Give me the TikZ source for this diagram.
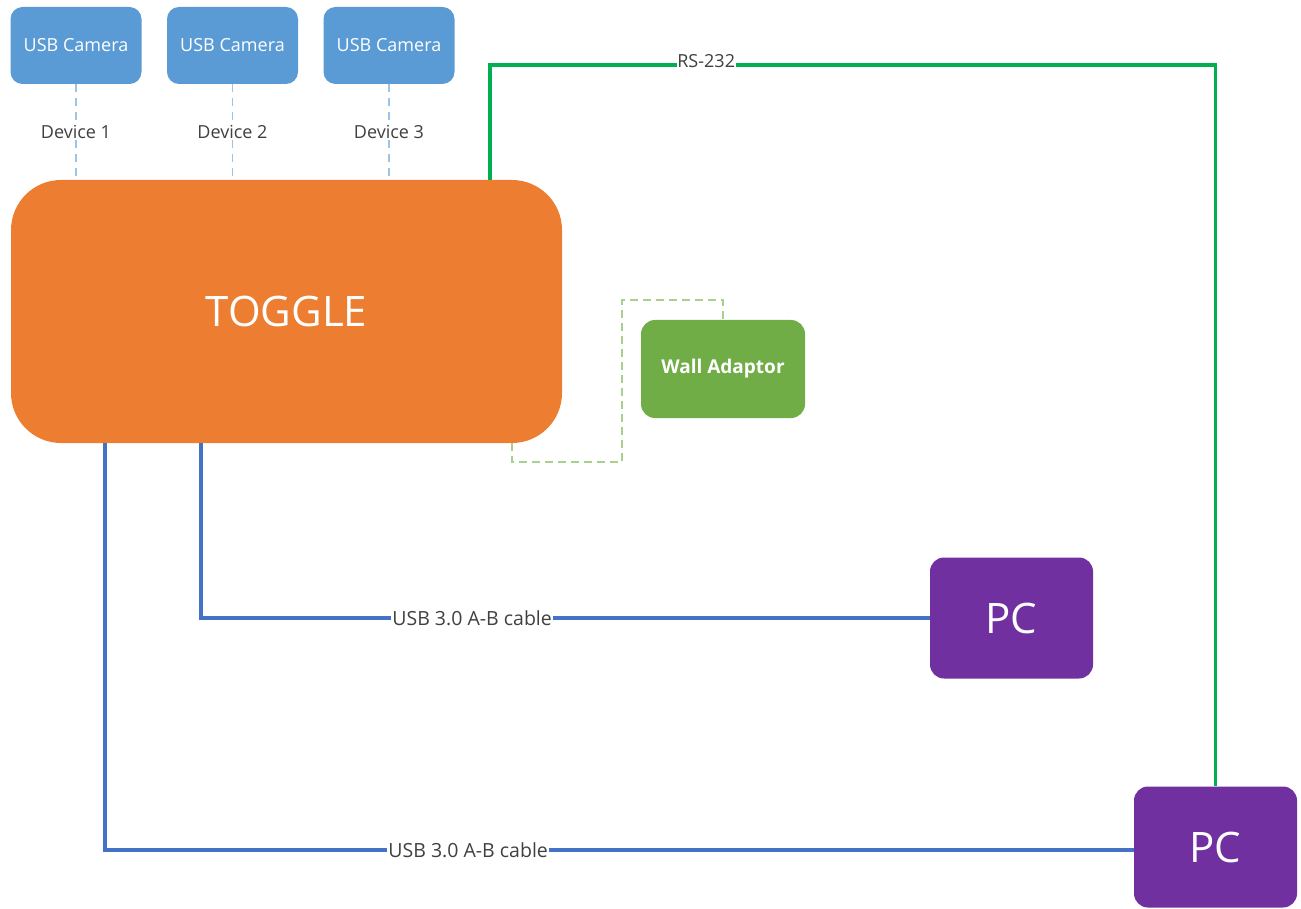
\documentclass[tikz,border=0pt]{standalone}
\usepackage{fontspec}
\setmainfont{Open Sans}
\usetikzlibrary{calc}
\definecolor{camblue}{HTML}{5B9BD5}
\definecolor{togorange}{HTML}{ED7D31}
\definecolor{wallgreen}{HTML}{70AD47}
\definecolor{pcpurple}{HTML}{7030A0}
\definecolor{usbblue}{HTML}{4472C4}
\definecolor{rsgreen}{HTML}{00B050}
\definecolor{dashblue}{HTML}{9DC3E6}
\definecolor{dashgreen}{HTML}{A9D18E}
\definecolor{labelgray}{HTML}{404040}
\tikzset{
  box/.style={rounded corners=12pt, text=white, inner sep=0pt, align=center},
  cam/.style={box, fill=camblue, minimum width=131pt, minimum height=77pt,
    font=\fontsize{18}{20}\selectfont},
  pcbox/.style={box, fill=pcpurple, minimum width=163pt, minimum height=121pt,
    rounded corners=14pt, font=\fontsize{42}{46}\selectfont},
  camlink/.style={draw=dashblue, line width=1.6pt, dash pattern=on 8pt off 6pt},
  walllink/.style={draw=dashgreen, line width=1.6pt, dash pattern=on 8pt off 5pt},
  usb/.style={draw=usbblue, line width=3.5pt},
  rs/.style={draw=rsgreen, line width=3.5pt},
  lbl/.style={fill=white, text=labelgray, inner sep=1pt, font=\fontsize{18}{20}\selectfont},
  cablelbl/.style={lbl, font=\fontsize{19.5}{21}\selectfont},
}
\begin{document}
\begin{tikzpicture}[x=1pt, y=-1pt]
\useasboundingbox (0,0) rectangle (1301,909);
% nodes
\node[cam] (cam1) at (76,45.5) {USB Camera};
\node[cam] (cam2) at (232.5,45.5) {USB Camera};
\node[cam] (cam3) at (389,45.5) {USB Camera};
\node[box, fill=togorange, minimum width=551pt, minimum height=263pt,
  rounded corners=50pt, font=\fontsize{42}{46}\selectfont] (toggle) at (286.5,311.5) {TOGGLE};
\node[box, fill=wallgreen, minimum width=164pt, minimum height=98pt,
  rounded corners=14pt, font=\fontsize{19}{21}\selectfont\bfseries] (wall) at (723,369) {Wall Adaptor};
\node[pcbox] (pc1) at (1011.5,618) {PC};
\node[pcbox] (pc2) at (1215.5,847) {PC};
% helper coordinates
\coordinate (rsx) at (490,65);
\coordinate (u1) at (201,618);
\coordinate (u2) at (105,850);
\coordinate (wa) at (512,462);
\coordinate (wb) at (622,300);
% camera links
\draw[camlink] (cam1) -- node[lbl]{Device 1} (cam1 |- toggle.north);
\draw[camlink] (cam2) -- node[lbl]{Device 2} (cam2 |- toggle.north);
\draw[camlink] (cam3) -- node[lbl]{Device 3} (cam3 |- toggle.north);
% wall adaptor link
\draw[walllink] (toggle.south -| wa) -- (wa) -| (wb) -| (wall.north);
% RS-232
\draw[rs] (toggle.north -| rsx) -- (rsx) -- node[lbl, pos=0.298, yshift=4pt, inner sep=0.5pt]{RS-232} (rsx -| pc2) -- (pc2.north);
% USB cables
\draw[usb] (toggle.south -| u1) -- (u1) -- node[cablelbl, pos=0.372]{USB 3.0 A-B cable} (u1 -| pc1.west);
\draw[usb] (toggle.south -| u2) -- (u2) -- node[cablelbl, pos=0.353]{USB 3.0 A-B cable} (u2 -| pc2.west);
\end{tikzpicture}
\end{document}
